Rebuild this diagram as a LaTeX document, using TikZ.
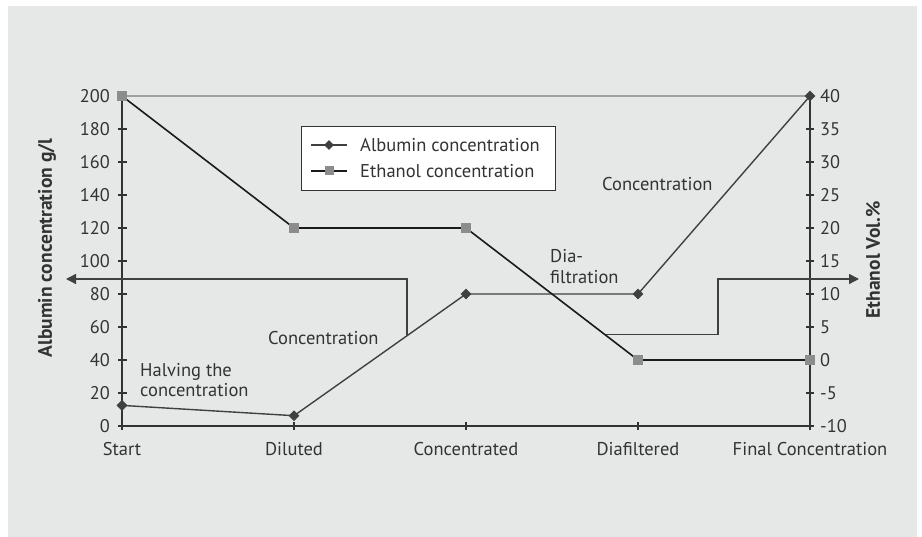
\documentclass[tikz,border=0pt]{standalone}
\usepackage{fontspec}
\setmainfont{PT Sans}
\usetikzlibrary{arrows.meta,shapes.geometric,positioning}
\definecolor{PanelGrey}{RGB}{230, 232, 231}
\definecolor{InkDark}{RGB}{51, 51, 51}
\definecolor{LineAlb}{RGB}{64, 64, 64}
\definecolor{LineEth}{RGB}{26, 26, 26}
\definecolor{MarkEth}{RGB}{140, 140, 140}
\definecolor{TopGrid}{RGB}{160, 160, 160}
\tikzset{
  lbl/.style={text=InkDark, font=\fontsize{18.5}{20.5}\selectfont, inner sep=0pt},
  ticklbl/.style={lbl, font=\fontsize{18.3}{20}\selectfont},
  axtitle/.style={text=InkDark, font=\fontsize{19.5}{22}\selectfont\bfseries, inner sep=0pt, rotate=90},
  axline/.style={draw=InkDark, line width=1.2pt},
  albmark/.style={diamond, fill=LineAlb, inner sep=0pt, minimum size=11pt},
  ethmark/.style={rectangle, fill=MarkEth, inner sep=0pt, minimum size=9.5pt},
  hint/.style={draw=LineAlb, line width=1.4pt, -{Triangle[length=10pt,width=10pt]}}
}
\begin{document}
\begin{tikzpicture}[x=1pt,y=-1pt]
  \useasboundingbox (0,0) rectangle (922,537);
  % panel
  \fill[PanelGrey] (8,6) rectangle (917,537);

  % axes and top line
  \draw[TopGrid, line width=1.3pt] (122,96) -- (810,96);
  \draw[axline] (122,96) -- (122,426) -- (810,426) -- (810,96);
  \foreach \v [count=\i from 0] in {0,20,...,200}
    {\draw[axline] (118,426-\i*33) -- (127,426-\i*33);
     \node[ticklbl, anchor=east] (tl\i) at (110,426-\i*33) {\v};}
  \foreach \v [count=\i from 0] in {-10,-5,...,40}
    {\draw[axline] (806,426-\i*33) -- (814,426-\i*33);
     \node[ticklbl, anchor=west] (tr\i) at (820,426-\i*33) {\v};}
  \foreach \c [count=\i from 0] in {Start,Diluted,Concentrated,Diafiltered,Final Concentration}
    {\draw[axline] (122+\i*172,422) -- (122+\i*172,430);
     \node[lbl] (cat\i) at (122+\i*172,449) {\c};}
  \node[axtitle] (ytl) at (47,248) {Albumin concentration g/l};
  \node[axtitle] (ytr) at (873,260) {Ethanol Vol.\%};

  % data points
  \coordinate (a1) at (122,405.4);
  \coordinate (a2) at (294,415.7);
  \coordinate (a3) at (466,294);
  \coordinate (a4) at (638,294);
  \coordinate (a5) at (810,96);
  \coordinate (e1) at (122,96);
  \coordinate (e2) at (294,228);
  \coordinate (e3) at (466,228);
  \coordinate (e4) at (638,360);
  \coordinate (e5) at (810,360);

  % annotation arrows
  \coordinate (lfoot) at (407,335.5);
  \coordinate (lknee) at (407,279);
  \coordinate (ltip) at (66,279);
  \draw[hint] (lfoot) -- (lknee) -- (ltip);
  \coordinate (rfoot) at (605,334.7);
  \coordinate (rknee) at (718,334.7);
  \coordinate (rup) at (718,279);
  \coordinate (rtip) at (859,279);
  \draw[hint] (rfoot) -- (rknee) -- (rup) -- (rtip);

  % series
  \draw[LineAlb, line width=1.4pt] (a1) -- (a2) -- (a3) -- (a4) -- (a5);
  \draw[LineEth, line width=1.6pt] (e1) -- (e2) -- (e3) -- (e4) -- (e5);
  \foreach \p in {1,...,5}
    {\node[albmark] (ma\p) at (a\p) {};
     \node[ethmark] (me\p) at (e\p) {};}

  % step labels
  \node[lbl, anchor=west, align=left] (halve) at (140,380) {Halving the\\concentration};
  \node[lbl, anchor=west] (conc1) at (268,338) {Concentration};
  \node[lbl, anchor=west, align=left] (diaf) at (550,266.5) {Dia-\\filtration};
  \node[lbl, anchor=west] (conc2) at (602,184) {Concentration};

  % legend
  \node[draw=InkDark, fill=white, line width=0.8pt, minimum width=254pt, minimum height=64pt, inner sep=0pt] (legend) at (428,158) {};
  \coordinate (lga) at (311,145);
  \coordinate (lgb) at (347,145);
  \coordinate (lgc) at (311,171);
  \coordinate (lgd) at (347,171);
  \draw[LineAlb, line width=1.4pt] (lga) -- (lgb);
  \draw[LineEth, line width=1.4pt] (lgc) -- (lgd);
  \node[albmark, minimum size=10pt] (lgma) at (329,145) {};
  \node[ethmark, minimum size=9pt] (lgme) at (329,171) {};
  \node[lbl, anchor=west] (lgta) at (360,145) {Albumin concentration};
  \node[lbl, anchor=west] (lgte) at (360,171) {Ethanol concentration};
\end{tikzpicture}
\end{document}
